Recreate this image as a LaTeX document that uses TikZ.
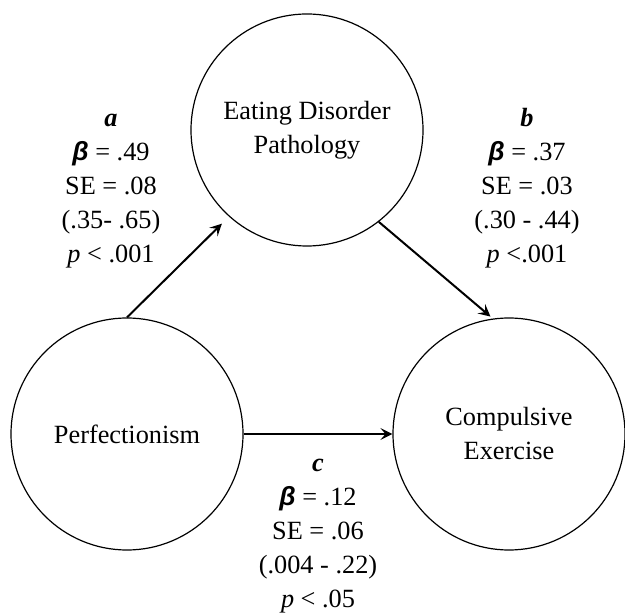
\documentclass[tikz,border=0pt]{standalone}
\usepackage{fontspec}
\setmainfont{Liberation Serif}
\newfontfamily\grkfont{Liberation Sans}
\usetikzlibrary{arrows.meta}
\newcommand{\bbeta}{{\grkfont\bfseries\itshape β}}

\begin{document}
\begin{tikzpicture}[x=0.5pt, y=0.5pt, >={Stealth[length=6pt,width=6pt,inset=2.5pt]},
  var/.style={draw, circle, line width=0.6pt, minimum size=116pt, inner sep=0pt, align=center, font=\fontsize{13.15}{17}\selectfont},
  est/.style={align=center, anchor=base, inner sep=0pt, font=\fontsize{13.15}{17}\selectfont},
  eff/.style={->, line width=1pt}]
  \useasboundingbox (0,0) rectangle (625,615);
  \node[var](edp) at (307,485){Eating Disorder\\Pathology};
  \node[var](perf) at (127,181){Perfectionism};
  \node[var](cex) at (509,181){Compulsive\\Exercise};
  % anchor=base sits on the last line
  \node[est](esta) at (111,352){\textbf{\textit{a}}\\ \bbeta{} = .49\\ SE = .08\\ (.35- .65)\\ \textit{p} < .001};
  \node[est](estb) at (527,352){\textbf{\textit{b}}\\ \bbeta{} = .37\\ SE = .03\\ (.30 - .44)\\ \textit{p} <.001};
  \node[est](estc) at (318,8){\textbf{\textit{c}}\\ \bbeta{} = .12\\ SE = .06\\ (.004 - .22)\\ \textit{p} < .05};
  \draw[eff, shorten >=5pt](perf.north) -- (edp.228);
  \draw[eff, shorten >=1.5pt](edp.308) -- (cex.98);
  \draw[eff](perf.east) -- (cex.west);
\end{tikzpicture}
\end{document}
